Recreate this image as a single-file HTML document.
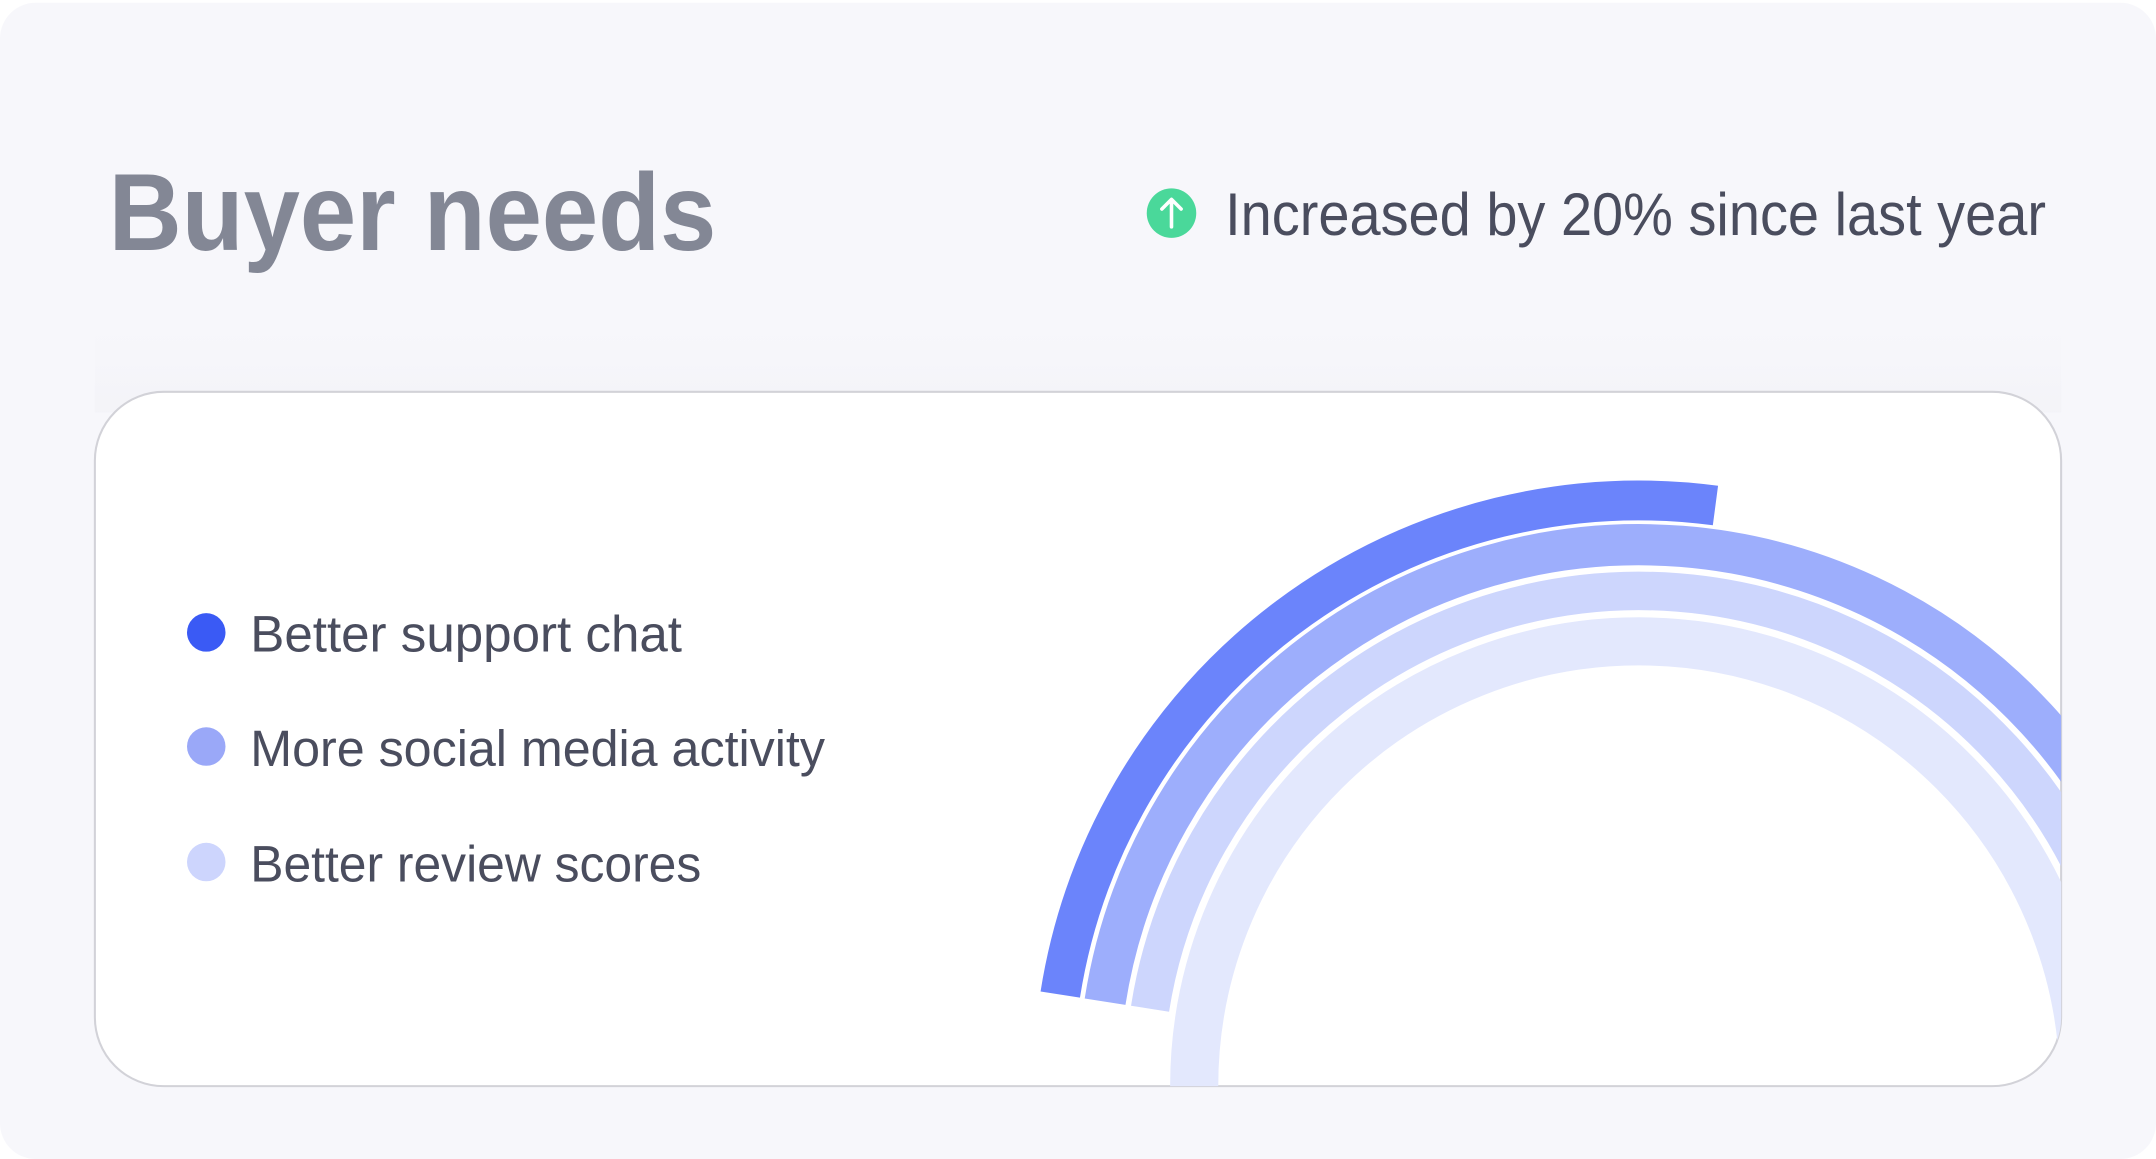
<!DOCTYPE html>
<html><head><meta charset="utf-8"><style>
html,body{margin:0;padding:0;background:#fff;width:2156px;height:1159px;overflow:hidden;}
svg{display:block;position:absolute;left:0;top:0;}
</style></head><body>
<svg width="2156" height="1159" viewBox="0 0 1568 843" xmlns="http://www.w3.org/2000/svg" preserveAspectRatio="none">
<defs>
<clipPath id="card"><rect x="69" y="285" width="1430" height="505" rx="50" ry="50"/></clipPath>
<linearGradient id="sh" x1="0" y1="0" x2="0" y2="1"><stop offset="0" stop-color="#f7f7fb"/><stop offset="1" stop-color="#f1f1f6"/></linearGradient>
</defs>
<rect x="0" y="2" width="1568" height="841" rx="26" ry="26" fill="#f7f7fb"/>
<rect x="69" y="240" width="1430" height="60" fill="url(#sh)" opacity="0.6"/>
<text x="79" y="182" font-family="Liberation Sans, sans-serif" font-weight="bold" font-size="80" fill="#838795" textLength="442" lengthAdjust="spacingAndGlyphs">Buyer needs</text>
<circle cx="852" cy="155" r="18" fill="#4ad89a"/>
<path d="M852 165 V146 M845 152 L852 145 L859 152" stroke="#fff" stroke-width="2.6" fill="none" stroke-linecap="round" stroke-linejoin="round"/>
<text x="891" y="171" font-family="Liberation Sans, sans-serif" font-size="44" fill="#4a4d5e" textLength="597" lengthAdjust="spacingAndGlyphs">Increased by 20% since last year</text>
<rect x="69" y="285" width="1430" height="505" rx="50" ry="50" fill="#fff" stroke="#d2d2d8" stroke-width="1.5"/>
<g clip-path="url(#card)" fill="none">
<circle cx="1192" cy="790" r="323.5" stroke="#e3e8fd" stroke-width="35"/>
<path d="M836.4 733.7 A360 360 0 0 1 1552 790" stroke="#cdd6fd" stroke-width="28"/>
<path d="M803.7 728.6 A393 393 0 0 1 1585 790" stroke="#9daefc" stroke-width="30"/>
<path d="M771.1 723.4 A426 426 0 0 1 1247.6 367.7" stroke="#6b84fb" stroke-width="29"/>
</g>
<circle cx="150" cy="460" r="14" fill="#3a5af5"/>
<circle cx="150" cy="543" r="14" fill="#9aa8f8"/>
<circle cx="150" cy="627" r="14" fill="#cdd5fd"/>
<g font-family="Liberation Sans, sans-serif" font-size="37" fill="#4a4d5e">
<text x="182" y="474" textLength="314" lengthAdjust="spacingAndGlyphs">Better support chat</text>
<text x="182" y="557" textLength="418" lengthAdjust="spacingAndGlyphs">More social media activity</text>
<text x="182" y="641" textLength="328" lengthAdjust="spacingAndGlyphs">Better review scores</text>
</g>
</svg>
</body></html>
